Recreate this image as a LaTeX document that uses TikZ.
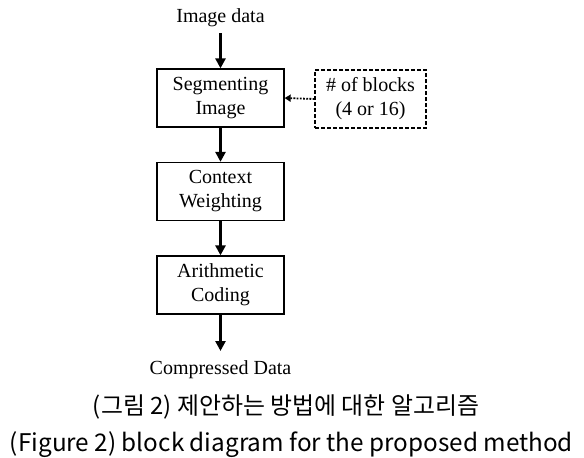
\documentclass[tikz,border=0pt]{standalone}
\usepackage{fontspec}
\setmainfont{Liberation Serif}
\newfontfamily\krfont{Noto Sans CJK KR}
\usetikzlibrary{arrows.meta}
\begin{document}
\begin{tikzpicture}[x=1pt,y=-1pt,
  blk/.style={draw, line width=1.3pt, minimum width=127pt, minimum height=58pt, inner sep=0pt, align=center, font=\fontsize{20}{24}\selectfont},
  dblk/.style={draw, dash pattern=on 4pt off 2pt, line width=1.1pt, minimum width=111pt, minimum height=58pt, inner sep=0pt, align=center, font=\fontsize{20}{24}\selectfont},
  lbl/.style={inner sep=0pt, font=\fontsize{20}{24}\selectfont},
  flow/.style={line width=2.6pt, -{Triangle[length=10pt,width=10pt]}},
  dflow/.style={line width=1.8pt, dash pattern=on 1.8pt off 1.4pt, -{Triangle[length=6pt,width=7pt]}},
  captxt/.style={inner sep=0pt, anchor=base}]
\useasboundingbox (0,0) rectangle (584,458);
\node[lbl] (img) at (220.5,18) {Image data};
\node[blk] (seg) at (220.5,98) {Segmenting\\Image};
\node[dblk] (nb) at (370.5,99) {\# of blocks\\(4 or 16)};
\node[blk] (ctx) at (220.5,191.5) {Context\\Weighting};
\node[blk] (ari) at (220.5,285) {Arithmetic\\Coding};
\node[lbl] (out) at (220.5,370) {Compressed Data};
\coordinate (imgb) at (220.5,33);
\coordinate (outt) at (220.5,351);
\draw[flow] (imgb) -- (seg.north);
\draw[flow] (seg.south) -- (ctx.north);
\draw[flow] (ctx.south) -- (ari.north);
\draw[flow] (ari.south) -- (outt);
\draw[dflow] (nb.west) -- (seg.east);
\node[captxt] (c1) at (286,414) {\resizebox{386pt}{!}{\krfont\fontsize{24}{28}\selectfont (그림 2) 제안하는 방법에 대한 알고리즘}};
\node[captxt] (c2) at (291.5,451) {\resizebox{563pt}{!}{\krfont\fontsize{24}{28}\selectfont (Figure 2) block diagram for the proposed method}};
\end{tikzpicture}
\end{document}
